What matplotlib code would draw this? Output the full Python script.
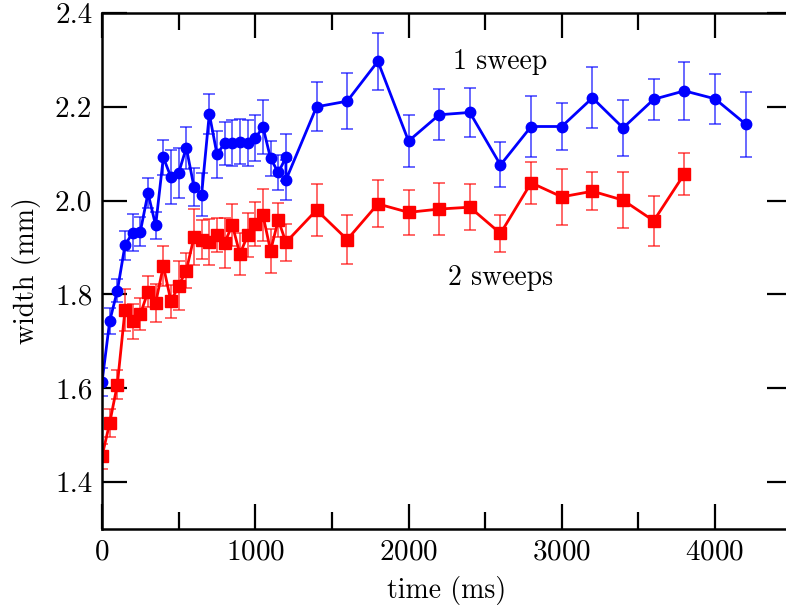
import numpy as np
import matplotlib
matplotlib.use('Agg')
import matplotlib.pyplot as plt
from matplotlib.ticker import MultipleLocator

plt.rcParams['font.family'] = 'serif'
plt.rcParams['font.serif'] = ['cmr10', 'DejaVu Serif']
plt.rcParams['mathtext.fontset'] = 'cm'
plt.rcParams['axes.formatter.use_mathtext'] = True

# 1 sweep (blue circles)
t1 = [0, 50, 100, 150, 200, 250, 300, 350, 400, 450, 500, 550, 600, 650, 700, 750,
      800, 850, 900, 950, 1000, 1050, 1100, 1150, 1200, 1200, 1400, 1600, 1800,
      2000, 2200, 2400, 2600, 2800, 3000, 3200, 3400, 3600, 3800, 4000, 4200]
w1 = [1.613, 1.743, 1.808, 1.905, 1.932, 1.934, 2.016, 1.947, 2.092, 2.050, 2.059,
      2.113, 2.029, 2.013, 2.185, 2.099, 2.122, 2.122, 2.126, 2.123, 2.133, 2.157,
      2.090, 2.060, 2.092, 2.044, 2.200, 2.212, 2.297,
      2.127, 2.183, 2.188, 2.076, 2.158, 2.158, 2.219, 2.155, 2.216, 2.234, 2.217, 2.163]
e1 = [0.030, 0.028, 0.025, 0.031, 0.040, 0.031, 0.032, 0.029, 0.037, 0.058, 0.053,
      0.045, 0.040, 0.046, 0.043, 0.050, 0.046, 0.049, 0.048, 0.049, 0.049, 0.057,
      0.038, 0.037, 0.050, 0.043, 0.052, 0.059, 0.061,
      0.055, 0.054, 0.053, 0.048, 0.064, 0.050, 0.065, 0.060, 0.044, 0.062, 0.053, 0.069]

# 2 sweeps (red squares)
t2 = [0, 50, 100, 150, 200, 250, 300, 350, 400, 450, 500, 550, 600, 650, 700, 750,
      800, 850, 900, 950, 1000, 1050, 1100, 1150, 1200, 1400, 1600, 1800,
      2000, 2200, 2400, 2600, 2800, 3000, 3200, 3400, 3600, 3800]
w2 = [1.455, 1.526, 1.608, 1.767, 1.743, 1.758, 1.806, 1.782, 1.861, 1.785, 1.819,
      1.851, 1.922, 1.917, 1.912, 1.926, 1.910, 1.948, 1.886, 1.926, 1.950, 1.969,
      1.893, 1.959, 1.911, 1.980, 1.917, 1.993,
      1.975, 1.982, 1.986, 1.930, 2.038, 2.008, 2.020, 2.001, 1.957, 2.057]
e2 = [0.027, 0.029, 0.030, 0.045, 0.037, 0.034, 0.033, 0.040, 0.042, 0.036, 0.053,
      0.037, 0.060, 0.042, 0.049, 0.036, 0.054, 0.044, 0.045, 0.047, 0.047, 0.056,
      0.047, 0.037, 0.039, 0.056, 0.053, 0.050,
      0.048, 0.055, 0.049, 0.039, 0.045, 0.059, 0.040, 0.059, 0.053, 0.044]

fig = plt.figure(figsize=(7.86, 6.12), dpi=100)
# right spine sits just past the picture edge, as in the original crop
ax = fig.add_axes([0.1298, 0.1356, 0.8774, 0.8432])

ax.errorbar(t1, w1, yerr=e1, color='#0000ff', lw=2.0, marker='o', ms=7.5,
            ecolor=(0, 0, 1, 0.75), elinewidth=1.1, capsize=4, capthick=1.1)
ax.errorbar(t2, w2, yerr=e2, color='#ff0000', lw=2.0, marker='s', ms=8,
            ecolor=(1, 0, 0, 0.75), elinewidth=1.1, capsize=4, capthick=1.1)

ax.text(2600, 2.295, '1 sweep', fontsize=20, ha='center', va='center')
ax.text(2600, 1.835, '2 sweeps', fontsize=20, ha='center', va='center')

ax.set_xlim(0, 4500)
ax.set_ylim(1.3, 2.4)
ax.xaxis.set_major_locator(MultipleLocator(1000))
ax.xaxis.set_minor_locator(MultipleLocator(500))
ax.yaxis.set_major_locator(MultipleLocator(0.2))
ax.yaxis.set_major_formatter(plt.FormatStrFormatter('%.1f'))

ax.tick_params(which='both', direction='in', top=True, right=True, labelsize=21, width=1.6)
ax.tick_params(which='major', length=18, pad=7)
ax.tick_params(which='minor', length=12)
for s in ax.spines.values():
    s.set_linewidth(1.8)

ax.set_xlabel('time (ms)', fontsize=20, labelpad=8)
ax.set_ylabel('width (mm)', fontsize=20, labelpad=10)

fig.savefig('out.png', dpi=100)
